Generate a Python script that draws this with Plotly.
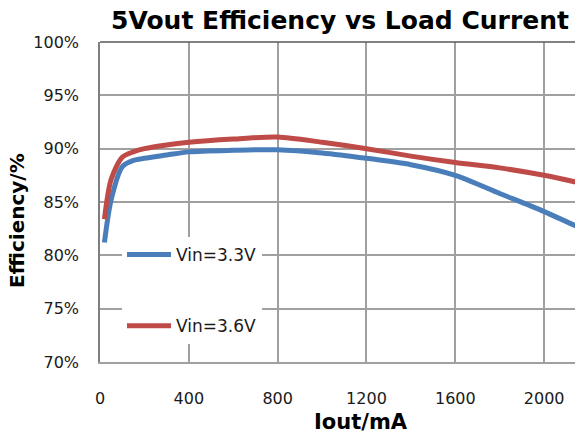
import plotly.graph_objects as go

load_ma = [20, 50, 100, 150, 200, 300, 400, 600, 800, 1000, 1200, 1400, 1600, 1800, 2000, 2200]
eff_33 = [81.2, 85.2, 88.3, 88.9, 89.1, 89.4, 89.7, 89.85, 89.9, 89.6, 89.1, 88.5, 87.5, 85.8, 84.1, 82.2]
eff_36 = [83.4, 87.1, 89.2, 89.7, 90.0, 90.35, 90.6, 90.9, 91.1, 90.6, 90.0, 89.3, 88.7, 88.2, 87.5, 86.6]
series_names = ["Vin=3.3V", "Vin=3.6V"]
x_ticks = [0, 400, 800, 1200, 1600, 2000]
y_ticks = [70, 75, 80, 85, 90, 95, 100]
y_tick_labels = ["70%", "75%", "80%", "85%", "90%", "95%", "100%"]

BLUE = "#4a7ebb"
RED = "#be4b48"

# The page body adds an 8px offset; the figure is sized so it ends at the window edge.
OFF = 8
W, H = 583 - OFF, 442 - OFF
PL, PT, PB = 100, 42, 362          # plot area edges in window pixels
PW, PH = 583 - PL, PB - PT


def px_x(x):
    return (x - PL) / PW


def px_y(y):
    return (PB - y) / PH


fig = go.Figure()
for name, vals, col, grp in [(series_names[0], eff_33, BLUE, "a"), (series_names[1], eff_36, RED, "b")]:
    fig.add_trace(go.Scatter(x=load_ma, y=vals, name=name, mode="lines",
                             line=dict(color=col, width=5, shape="spline", smoothing=0.8),
                             legendgroup=grp))

fig.update_layout(
    width=W, height=H,
    margin=dict(l=PL - OFF, r=0, t=PT - OFF, b=H - (PB - OFF)),
    paper_bgcolor="white", plot_bgcolor="white",
    title=dict(text="<b>5Vout Efficiency vs Load Current</b>",
               font=dict(family="DejaVu Sans", size=25, color="black"),
               xref="container", x=(340 - OFF) / W, xanchor="center",
               yref="container", y=1 - (20 - OFF) / H, yanchor="middle"),
    xaxis=dict(range=[0, 2175], tickvals=x_ticks, showgrid=True, gridcolor="#a0a0a0", gridwidth=1.5,
               zeroline=False, showline=True, linecolor="#a0a0a0", linewidth=1.5, automargin=False,
               tickfont=dict(family="DejaVu Sans", size=16, color="#1a1a1a"), ticks="", ticklabelstandoff=21),
    yaxis=dict(range=[70, 100], tickvals=y_ticks, ticktext=y_tick_labels, showgrid=True,
               gridcolor="#a0a0a0", gridwidth=1.5, automargin=False,
               zeroline=False, showline=True, linecolor="#7f7f7f", linewidth=1.5,
               tickfont=dict(family="DejaVu Sans", size=16, color="#1a1a1a"), ticks="", ticklabelstandoff=16),
    legend=dict(x=px_x(122), y=px_y(237), xanchor="left", yanchor="top", bgcolor="white",
                font=dict(family="DejaVu Sans", size=17, color="#1a1a1a"),
                traceorder="grouped", tracegroupgap=46, itemwidth=44),
    shapes=[dict(type="line", xref="paper", yref="paper", x0=0, x1=1, y0=1, y1=1,
                 line=dict(color="#595959", width=1.5))],
    annotations=[
        dict(text="<b>Iout/mA</b>", xref="paper", yref="paper", x=px_x(361), y=px_y(422),
             xanchor="center", yanchor="middle", showarrow=False,
             font=dict(family="DejaVu Sans", size=21, color="black")),
        dict(text="<b>Efficiency/%</b>", xref="paper", yref="paper", x=px_x(17), y=px_y(221),
             xanchor="center", yanchor="middle", textangle=-90, showarrow=False,
             font=dict(family="DejaVu Sans", size=20, color="black")),
    ],
)
fig.write_html("out.html")
